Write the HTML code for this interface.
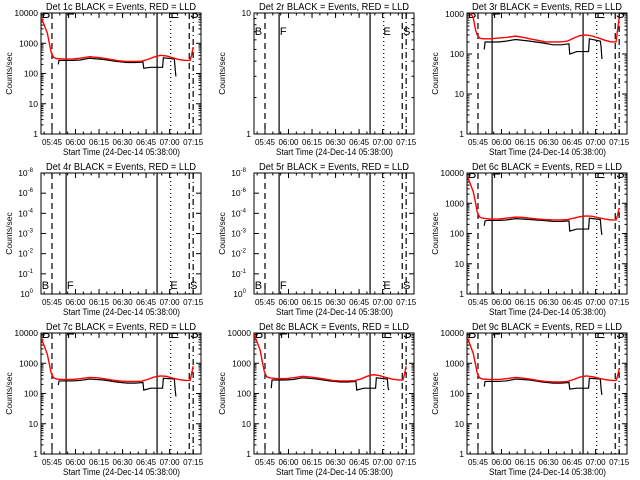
<!DOCTYPE html>
<html><head><meta charset="utf-8"><style>
html,body{margin:0;padding:0;background:#fff;}
svg{display:block;font-family:"Liberation Sans",sans-serif;}
</style></head><body>
<svg id="c" width="640" height="480" viewBox="0 0 640 480"></svg>
<script>
const titles = ["Det 1c","Det 2r","Det 3r","Det 4r","Det 5r","Det 6c","Det 7c","Det 8c","Det 9c"];
const xTickLabels = ["05:45","06:00","06:15","06:30","06:45","07:00","07:15"];
const xTickMinutes = [7,22,37,52,67,82,97];
const xRangeMinutes = 102;
const markerTimes = [7,16,74,82.7,94.5,97];
const letterLabels = ["B","F","E","S"];
const letterTimes = [0.5,16.5,82.5,95];
const redT = [0,2,4,5.5,6.5,8,10,15,20,25,31,36,40,45,50,55,60,64,68,72,76,80,84,88,92,95,96,97];
const blackT = [11,11.5,13,20,25,31,40,48,55,60,65,65.5,70,77.5,78,85,85.5,86];
const red1 = [7500,4000,2200,900,500,340,310,300,300,320,360,340,320,290,260,250,250,255,290,350,400,380,330,290,270,270,400,750];
const black1 = [200,270,270,270,280,320,290,250,230,230,240,150,160,160,330,300,150,80];
const red3 = [1100,1100,800,400,300,250,240,240,250,260,280,260,240,220,200,200,200,210,250,290,300,280,250,220,200,200,400,800];
const black3 = [130,200,200,200,210,230,210,190,170,170,180,100,115,115,240,210,150,75];
const red6 = [8000,4500,2400,1000,520,350,320,300,300,320,350,340,320,300,290,280,280,290,320,360,380,370,330,300,280,280,400,700];
const black6 = [180,260,270,270,280,310,290,270,250,250,260,120,140,140,320,290,140,90];
const red7 = [7000,3800,2000,850,480,330,300,290,290,310,340,330,310,280,260,250,250,255,290,350,380,370,320,290,270,270,450,800];
const black7 = [190,260,260,260,270,300,280,240,220,220,230,130,150,150,320,300,140,80];
const red8 = [9000,5000,2600,1000,550,360,330,310,310,330,370,350,330,300,270,260,260,265,300,370,420,390,340,300,280,280,450,800];
const black8 = [150,280,280,280,290,330,300,260,240,240,250,130,150,150,330,300,150,130];
const red9 = [7500,4000,2100,880,480,330,300,290,290,310,340,320,300,270,250,240,240,250,290,350,380,360,320,290,270,270,380,650];
const black9 = [170,250,250,250,260,300,280,240,220,220,230,140,150,150,320,300,140,90];
const logLabels = ["10000","1000","100","10","1"];
const expLabels = ["-8","-6","-4","-3","-2","-1","0"];

const NS="http://www.w3.org/2000/svg";
const svg=document.getElementById('c');
function mk(tag,attrs,parent){const e=document.createElementNS(NS,tag);for(const k in attrs)e.setAttribute(k,attrs[k]);(parent||svg).appendChild(e);return e;}
const PW=160,PH=121;
const cfg=[
 {ymax:10000,red:red1,black:black1,type:'log'},
 {type:'ten'},
 {ymax:1060,red:red3,black:black3,type:'log'},
 {type:'exp'},
 {type:'exp'},
 {ymax:10000,red:red6,black:black6,type:'log'},
 {ymax:10000,red:red7,black:black7,type:'log'},
 {ymax:10000,red:red8,black:black8,type:'log'},
 {ymax:10000,red:red9,black:black9,type:'log'}
];
const styles=["6,4",null,null,"1,3","6,4","6,3,1,3"];
for(let i=0;i<9;i++){
 const c=i%3,r=Math.floor(i/3);
 const ox=41+213*c,oy=13+160*r;
 const C=cfg[i];
 const g=mk('g',{});
 
 
 const xs=t=>ox+t/xRangeMinutes*PW;
 const ymin=1,ymax=C.ymax||10;
 const ys=v=>oy+PH*(Math.log10(ymax)-Math.log10(v))/(Math.log10(ymax)-Math.log10(ymin));
 const t=mk('text',{x:ox+5,y:oy-3,'font-size':'10',textLength:150,lengthAdjust:'spacingAndGlyphs'},g);
 t.textContent=titles[i]+" BLACK = Events, RED = LLD";
 
 
 const yt=mk('text',{x:0,y:0,'text-anchor':'middle','font-size':'8.5',transform:`translate(${ox-29},${oy+PH/2}) rotate(-90)`},g);
 yt.textContent="Counts/sec";
 
 
 const xt=mk('text',{x:ox+22,y:oy+PH+21,'font-size':'9.5',textLength:117,lengthAdjust:'spacingAndGlyphs'},g);
 xt.textContent="Start Time (24-Dec-14 05:38:00)";
 
 
 xTickLabels.forEach((lab,k)=>{
  const x=xs(xTickMinutes[k]);
  const tl=mk('text',{x:x,y:oy+PH+11,'text-anchor':'middle','font-size':'8'},g);
  tl.textContent=lab;
  
  
  mk('line',{x1:x,x2:x,y1:oy+PH,y2:oy+PH-5,stroke:'#000'},g);
  mk('line',{x1:x,x2:x,y1:oy,y2:oy+5,stroke:'#000'},g);
 });
 for(let m=2;m<xRangeMinutes;m+=5){const x=xs(m);mk('line',{x1:x,x2:x,y1:oy+PH,y2:oy+PH-2.5,stroke:'#000'},g);mk('line',{x1:x,x2:x,y1:oy,y2:oy+2.5,stroke:'#000'},g);}
 const ytick=(y,len)=>{mk('line',{x1:ox,x2:ox+len,y1:y,y2:y,stroke:'#000'},g);mk('line',{x1:ox+PW,x2:ox+PW-len,y1:y,y2:y,stroke:'#000'},g);};
 const ylab=(y,txt,exp)=>{const e=mk('text',{x:ox-3,y:y+3,'text-anchor':'end','font-size':'8.5'},g);e.textContent=txt;if(exp){e.setAttribute('x',ox-8);const s=mk('tspan',{'font-size':'6',dy:'-4'},e);s.textContent=exp;}};
 if(C.type==='log'){
  const dmax=Math.floor(Math.log10(ymax));
  for(let d=0;d<=dmax;d++){ylab(ys(Math.pow(10,d)),logLabels[4-d]);ytick(ys(Math.pow(10,d)),5);
   for(let m=2;m<10;m++){const v=m*Math.pow(10,d);if(v<ymax)ytick(ys(v),2.5);}}
 } else if(C.type==='ten'){
  ylab(ys(10),"10");ylab(ys(1),"1");ytick(ys(10),5);ytick(ys(1),5);
  for(let m=2;m<10;m++)ytick(ys(m),2.5);
 } else {
  expLabels.forEach((e,k)=>{const y=oy+k*PH/(expLabels.length-1);ylab(y,"10",e);ytick(y,5);});
 }
 mk('rect',{x:ox,y:oy,width:PW,height:PH,fill:'none',stroke:'#000','stroke-width':1},g);
 const clipId='clip'+i;
 const cp=mk('clipPath',{id:clipId},g);mk('rect',{x:ox,y:oy,width:PW,height:PH},cp);
 const inner=mk('g',{'clip-path':`url(#${clipId})`},g);
 markerTimes.forEach((mt,k)=>{
  const x=xs(mt);const a={x1:x,x2:x,y1:oy,y2:oy+PH,stroke:'#000','stroke-width':1.2};
  if(styles[k])a['stroke-dasharray']=styles[k];
  const l=mk('line',a,inner);
  
  
 });
 const ly = C.type==='log'?oy+5:(C.type==='ten'?oy+22:oy+PH-5);
 const fs = C.type==='log'?13:11;
 letterLabels.forEach((L,k)=>{
  const e=mk('text',{x:xs(letterTimes[k]),y:ly,'font-size':fs},inner);
  e.textContent=L;
  
  
 });
 if(C.red){
  const pb=mk('polyline',{points:blackT.map((tt,k)=>xs(tt)+','+ys(C.black[k])).join(' '),fill:'none',stroke:'#000','stroke-width':1.2},inner);
  
  
  const pr=mk('polyline',{points:redT.map((tt,k)=>xs(tt)+','+ys(C.red[k])).join(' '),fill:'none',stroke:'#f00','stroke-width':1.4},inner);
  
  
 }
}
</script>
</body></html>
